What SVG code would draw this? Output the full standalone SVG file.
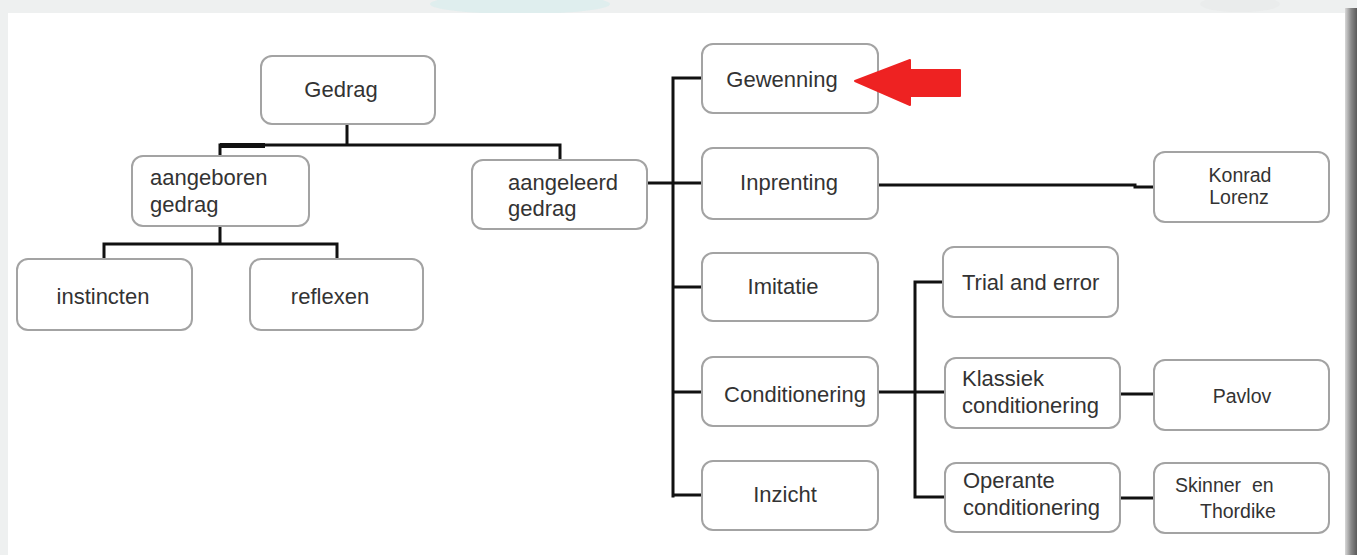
<svg xmlns="http://www.w3.org/2000/svg" width="1357" height="555" viewBox="0 0 1357 555">
<defs>
<linearGradient id="edge" x1="0" y1="0" x2="1" y2="0">
<stop offset="0" stop-color="#d8d8d8"/><stop offset="0.5" stop-color="#8a8a8a"/><stop offset="1" stop-color="#5a5a5a"/>
</linearGradient>
<style>
.box{fill:#ffffff;stroke:#a3a3a3;stroke-width:2}
.t{font-family:"Liberation Sans",Arial,sans-serif;font-size:22px;fill:#333333}
.s{font-family:"Liberation Sans",Arial,sans-serif;font-size:19.5px;fill:#333333}
.c{text-anchor:middle}
.ln{stroke:#111111;stroke-width:3;fill:none;stroke-linecap:square}
</style>
</defs>
<rect x="0" y="0" width="1357" height="555" fill="#eef0f0"/>
<ellipse cx="520" cy="4" rx="90" ry="10" fill="#d8ecec" opacity="0.7"/>
<ellipse cx="1240" cy="4" rx="40" ry="8" fill="#e8eaea" opacity="0.7"/>
<rect x="8" y="13" width="1339" height="542" fill="#ffffff"/>
<rect x="1345" y="8" width="12" height="547" fill="url(#edge)"/>

<g id="connectors">
<path class="ln" d="M347 124 V145 M220 145 H560 M220 145 V157 M560 145 V160"/>
<rect x="220" y="143" width="45" height="5" fill="#111"/>
<path class="ln" d="M220 226 V244 M104 244 H337 M104 244 V259 M337 244 V259"/>
<path class="ln" d="M647 183 H702"/>
<path class="ln" d="M673 78 V496 M673 78 H702 M673 287 H702 M673 392 H702 M673 495 H702"/>
<path class="ln" d="M878 185 H1135 V187 H1154"/>
<path class="ln" d="M878 392 H945 M915 282 V497 M915 282 H943 M915 497 H945"/>
<path class="ln" d="M1120 394 H1154 M1120 498 H1154"/>
</g>

<g id="n-gedrag"><rect class="box" x="261" y="56" width="174" height="68" rx="11"/><text class="t c" x="341" y="97">Gedrag</text></g>
<g id="n-aangeboren"><rect class="box" x="132" y="156" width="177" height="70" rx="11"/><text class="t" x="150" y="185">aangeboren</text><text class="t" x="150" y="212">gedrag</text></g>
<g id="n-aangeleerd"><rect class="box" x="472" y="160" width="175" height="69" rx="11"/><text class="t" x="508" y="190">aangeleerd</text><text class="t" x="508" y="216">gedrag</text></g>
<g id="n-instincten"><rect class="box" x="17" y="259" width="175" height="71" rx="11"/><text class="t c" x="103" y="304">instincten</text></g>
<g id="n-reflexen"><rect class="box" x="250" y="259" width="173" height="71" rx="11"/><text class="t c" x="330" y="304">reflexen</text></g>

<g id="n-gewenning"><rect class="box" x="702" y="44" width="176" height="69" rx="11"/><text class="t c" x="782" y="87">Gewenning</text></g>
<g id="n-inprenting"><rect class="box" x="702" y="148" width="176" height="71" rx="11"/><text class="t c" x="789" y="190">Inprenting</text></g>
<g id="n-imitatie"><rect class="box" x="702" y="253" width="176" height="68" rx="11"/><text class="t c" x="783" y="294">Imitatie</text></g>
<g id="n-conditionering"><rect class="box" x="702" y="357" width="176" height="69" rx="11"/><text class="t c" x="795" y="402">Conditionering</text></g>
<g id="n-inzicht"><rect class="box" x="702" y="461" width="176" height="69" rx="11"/><text class="t c" x="785" y="502">Inzicht</text></g>

<g id="n-trial"><rect class="box" x="943" y="247" width="175" height="70" rx="11"/><text class="t" x="962" y="290">Trial and error</text></g>
<g id="n-klassiek"><rect class="box" x="945" y="358" width="175" height="70" rx="11"/><text class="t" x="962" y="386">Klassiek</text><text class="t" x="962" y="413">conditionering</text></g>
<g id="n-operante"><rect class="box" x="945" y="463" width="175" height="69" rx="11"/><text class="t" x="963" y="488">Operante</text><text class="t" x="963" y="515">conditionering</text></g>

<g id="n-konrad"><rect class="box" x="1154" y="152" width="175" height="70" rx="11"/><text class="s c" x="1240" y="182">Konrad</text><text class="s c" x="1239" y="204">Lorenz</text></g>
<g id="n-pavlov"><rect class="box" x="1154" y="360" width="175" height="70" rx="11"/><text class="s c" x="1242" y="403">Pavlov</text></g>
<g id="n-skinner"><rect class="box" x="1154" y="463" width="175" height="70" rx="11"/><text class="s" x="1175" y="492" xml:space="preserve">Skinner  en</text><text class="s" x="1200" y="518">Thordike</text></g>

<g id="red-arrow"><path d="M855 81 L910 60 L910 70 L960 70 L960 96 L910 96 L910 105 Z" fill="#ee2222" stroke="#ee2222" stroke-width="2" stroke-linejoin="round"/></g>
</svg>
